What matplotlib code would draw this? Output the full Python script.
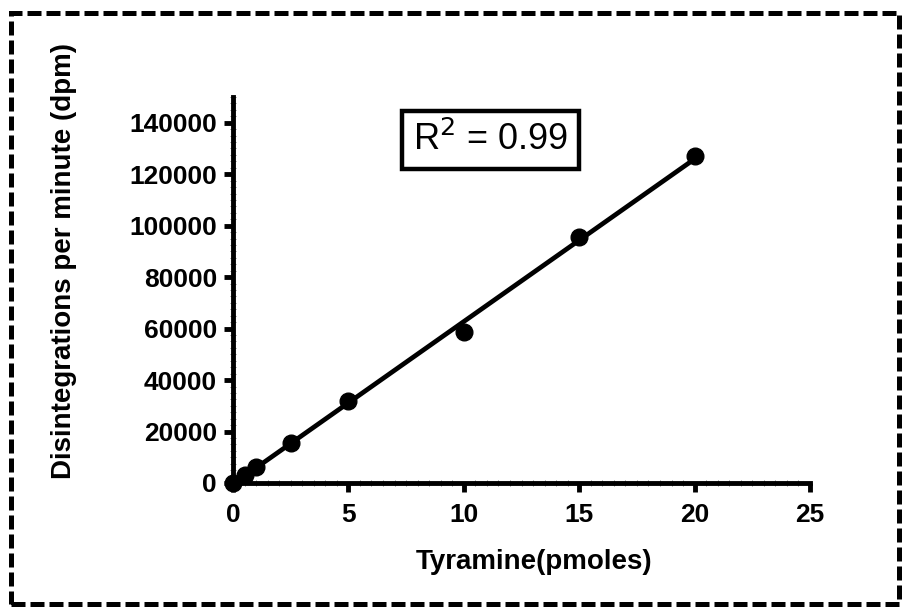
import numpy as np
import matplotlib.pyplot as plt
from matplotlib.patches import Rectangle
from matplotlib.ticker import MultipleLocator

plt.rcParams['font.family'] = ['Liberation Sans', 'DejaVu Sans']

# data
tyramine = [0, 0.5, 1, 2.5, 5, 10, 15, 20]
dpm = [0, 3300, 6200, 15400, 31800, 58500, 95600, 126900]
r2_text = 'R$^2$ = 0.99'

fig = plt.figure(figsize=(9.04, 6.09), dpi=100)
ax = fig.add_axes([233/904, 1 - 483/609, (810-233)/904, (483-97)/609])

slope, icpt = np.polyfit(tyramine, dpm, 1)
xf = np.array([0, max(tyramine)])
ax.plot(xf, slope*xf + icpt, color='black', lw=3.4, zorder=2)
ax.plot(tyramine, dpm, 'o', color='black', ms=12, zorder=3, clip_on=False)

ax.set_xlim(0, 25)
ax.set_ylim(0, 150000)
ax.set_xticks([0, 5, 10, 15, 20, 25])
ax.set_yticks(np.arange(0, 140001, 20000))
ax.xaxis.set_minor_locator(MultipleLocator(0.5))
ax.yaxis.set_minor_locator(MultipleLocator(2500))

for s in ['top', 'right']:
    ax.spines[s].set_visible(False)
for s in ['left', 'bottom']:
    ax.spines[s].set_linewidth(3.5)
ax.spines['bottom'].set_bounds(0, 25)

ax.tick_params(which='major', length=6.5, width=3.5, labelsize=19)
ax.tick_params(axis='x', which='major', pad=8)
ax.tick_params(axis='y', which='major', pad=5)
ax.tick_params(which='minor', direction='inout', length=4, width=0.6, color='#666666')
for lbl in ax.get_xticklabels() + ax.get_yticklabels():
    lbl.set_fontweight('bold')

ax.set_xlabel('Tyramine(pmoles)', fontsize=20, fontweight='bold')
ax.set_ylabel('Disintegrations per minute (dpm)', fontsize=20, fontweight='bold')
ax.xaxis.set_label_coords(0.522, -0.17)
ax.yaxis.set_label_coords(-0.27, 0.575)

ax.text(0.447, 0.889, r2_text, transform=ax.transAxes, fontsize=26,
        ha='center', va='center',
        bbox=dict(boxstyle='square,pad=0.3', fc='white', ec='black', lw=3.2))

# dashed frame round the whole figure
fig.patches.append(Rectangle((10.5/904, 1 - 604/609), (899-10.5)/904, (604-12.5)/609,
                             transform=fig.transFigure, fill=False,
                             ec='black', lw=3.6, ls=(0, (2.8, 1))))

fig.savefig('out.png', dpi=100)
